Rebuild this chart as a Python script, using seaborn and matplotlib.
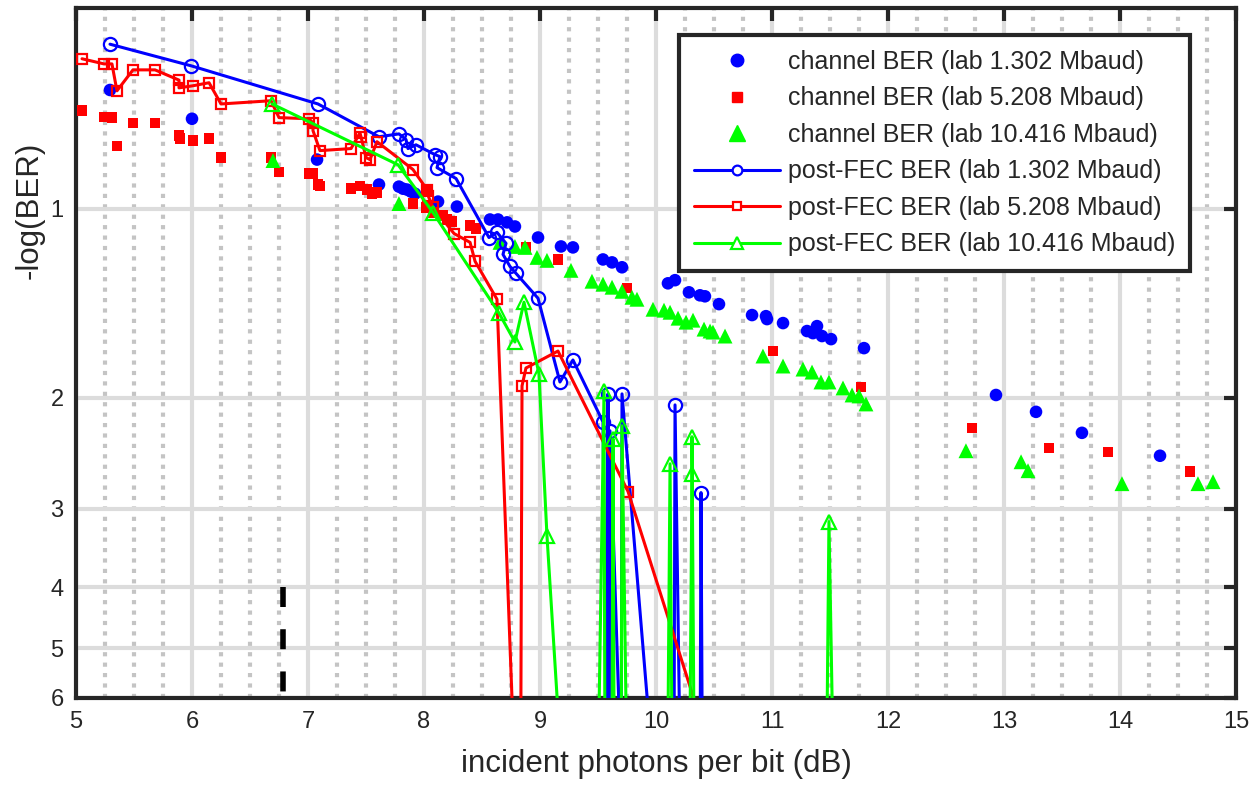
import numpy as np
import pandas as pd
import matplotlib
matplotlib.use("Agg")
import matplotlib.pyplot as plt
import seaborn as sns
from matplotlib.ticker import MultipleLocator, NullLocator, FixedLocator, FixedFormatter
from matplotlib.lines import Line2D

# value used for error-free (BER = 0) post-FEC points: they fall below the axis floor
FLOOR = 8.0
F = FLOOR

# ---------------- channel BER (filled markers) ----------------
ch1_x = [5.293, 6.0, 7.078, 7.612, 7.784, 7.819, 7.853, 7.888, 7.922, 8.121, 8.284, 8.569, 8.638,
         8.716, 8.784, 8.983, 9.181, 9.284, 9.543, 9.621, 9.707, 10.103, 10.164, 10.284, 10.379,
         10.422, 10.543, 10.828, 10.948, 10.957, 11.095, 11.302, 11.388, 11.353, 11.431, 11.509,
         11.793, 12.931, 13.276, 13.672, 14.345]
ch1_y = [0.648, 0.720, 0.836, 0.916, 0.923, 0.930, 0.933, 0.940, 0.947, 0.975, 0.993, 1.041, 1.041,
         1.052, 1.068, 1.112, 1.149, 1.153, 1.205, 1.218, 1.240, 1.315, 1.300, 1.359, 1.374,
         1.379, 1.419, 1.477, 1.483, 1.499, 1.521, 1.566, 1.538, 1.578, 1.595, 1.613,
         1.667, 1.979, 2.105, 2.273, 2.472]

ch2_x = [5.052, 5.241, 5.310, 5.353, 5.491, 5.681, 5.888, 5.897, 6.009, 6.147, 6.250, 6.681, 6.750,
         7.009, 7.043, 7.086, 7.103, 7.371, 7.448, 7.509, 7.552, 7.595, 7.905, 8.034, 8.017, 8.078,
         8.164, 8.198, 8.241, 8.397, 8.448, 8.879, 9.155, 9.750, 11.009, 11.767, 12.724, 13.388,
         13.897, 14.603]
ch2_y = [0.699, 0.715, 0.717, 0.795, 0.731, 0.731, 0.766, 0.774, 0.780, 0.774, 0.830, 0.830, 0.874,
         0.880, 0.880, 0.916, 0.920, 0.930, 0.920, 0.933, 0.947, 0.943, 0.982, 0.940, 0.996, 1.015,
         1.026, 1.041, 1.049, 1.064, 1.076, 1.153, 1.205, 1.339, 1.685, 1.921, 2.232, 2.401,
         2.436, 2.620]

ch3_x = [6.698, 7.784, 8.655, 8.784, 8.871, 8.974, 9.060, 9.267, 9.448, 9.543, 9.621, 9.707, 9.793,
         9.836, 9.974, 10.069, 10.121, 10.190, 10.259, 10.319, 10.414, 10.466, 10.491, 10.595,
         10.922, 11.095, 11.267, 11.345, 11.422, 11.491, 11.612, 11.690, 11.750, 11.810, 12.672,
         13.147, 13.207, 14.017, 14.672, 14.802]
ch3_y = [0.839, 0.982, 1.132, 1.149, 1.153, 1.196, 1.209, 1.254, 1.305, 1.319, 1.334, 1.354, 1.384,
         1.394, 1.446, 1.451, 1.462, 1.494, 1.516, 1.505, 1.555, 1.566, 1.572, 1.595,
         1.716, 1.780, 1.800, 1.820, 1.887, 1.887, 1.929, 1.979, 1.986, 2.045, 2.427,
         2.527, 2.611, 2.738, 2.738, 2.718]

# ---------------- post-FEC BER (open markers + lines) ----------------
pf1_x = [5.293, 5.991, 7.086, 7.612, 7.784, 7.845, 7.862, 7.931, 8.095, 8.138, 8.112, 8.276, 8.560,
         8.629, 8.707, 8.681, 8.741, 8.793, 8.983, 9.172, 9.284, 9.543, 9.575, 9.586, 9.595, 9.603,
         9.70, 9.707, 9.98, 10.155, 10.164, 10.21, 10.38, 10.388, 10.40]
pf1_y = [0.548, 0.593, 0.682, 0.769, 0.761, 0.777, 0.803, 0.792, 0.821, 0.827, 0.861, 0.896, 1.112,
         1.091, 1.136, 1.183, 1.236, 1.268, 1.389, 1.887, 1.741, 2.184, F, 1.971, F, 2.256,
         F, 1.971, F, F, 2.052, F, F, 2.829, F]

pf2_x = [5.052, 5.241, 5.310, 5.353, 5.491, 5.681, 5.888, 5.888, 6.009, 6.147, 6.250, 6.681, 6.750,
         7.009, 7.043, 7.043, 7.103, 7.371, 7.448, 7.457, 7.500, 7.534, 7.595, 7.905, 8.026, 8.035,
         8.078, 8.259, 8.397, 8.440, 8.629, 8.784, 8.833, 8.845, 8.879, 9.155, 9.759, 10.54]
pf2_y = [0.578, 0.589, 0.589, 0.650, 0.602, 0.602, 0.625, 0.643, 0.638, 0.631, 0.682, 0.674, 0.717,
         0.720, 0.731, 0.752, 0.809, 0.803, 0.758, 0.769, 0.830, 0.836, 0.783, 0.867, 0.933, 0.954,
         0.996, 1.096, 1.132, 1.213, 1.394, F, F, 1.914, 1.793, 1.685, 2.818, F]

pf3_x = [6.690, 7.776, 8.078, 8.647, 8.784, 8.862, 8.991, 9.060, 9.19, 9.50, 9.552, 9.56, 9.62,
         9.629, 9.64, 9.70, 9.707, 9.75, 10.10, 10.121, 10.14, 10.29, 10.31, 10.31, 10.33, 11.47,
         11.491, 11.53]
pf3_y = [0.682, 0.852, 1.015, 1.467, 1.630, 1.409, 1.833, 3.310, F, F, 1.950, F, F,
         2.323, F, F, 2.215, F, F, 2.546, F, F, 2.640, 2.306, F, F,
         3.146, F]

# threshold marker (dashed)
thr_x = [6.784, 6.784]
thr_y = [4.0, 6.0]

x_ticks = [5, 6, 7, 8, 9, 10, 11, 12, 13, 14, 15]
y_ticks = [1, 2, 3, 4, 5, 6]
y_tick_labels = ["1", "2", "3", "4", "5", "6"]

labels = ["channel BER (lab 1.302 Mbaud)", "channel BER (lab 5.208 Mbaud)",
          "channel BER (lab 10.416 Mbaud)", "post-FEC BER (lab 1.302 Mbaud)",
          "post-FEC BER (lab 5.208 Mbaud)", "post-FEC BER (lab 10.416 Mbaud)"]
colors = ["#0000FF", "#FF0000", "#00FF00"]

sns.set_style("white")
plt.rcParams["font.family"] = ["Liberation Sans", "DejaVu Sans"]

fig = plt.figure(figsize=(12.58, 7.88), dpi=100)
ax = fig.add_axes([76 / 1258, 1 - 698 / 788, 1160 / 1258, 690 / 788])

ax.set_yscale("log")

# channel BER scatter
for xs, ys, c, m, s in [(ch1_x, ch1_y, colors[0], "o", 82),
                        (ch2_x, ch2_y, colors[1], "s", 56),
                        (ch3_x, ch3_y, colors[2], "^", 115)]:
    sns.scatterplot(x=xs, y=ys, color=c, marker=m, s=s, edgecolor="none", linewidth=0,
                    ax=ax, legend=False, zorder=3)

# post-FEC lines
for xs, ys, c, m, ms in [(pf1_x, pf1_y, colors[0], "o", 9.5),
                         (pf2_x, pf2_y, colors[1], "s", 7.5),
                         (pf3_x, pf3_y, colors[2], "^", 10.5)]:
    df = pd.DataFrame({"x": xs, "y": ys})
    sns.lineplot(data=df, x="x", y="y", sort=False, estimator=None,
                 color=c, linewidth=2.2, marker=m, markersize=ms, markerfacecolor="none",
                 markeredgecolor=c, markeredgewidth=1.6, ax=ax, legend=False, zorder=4)

sns.lineplot(x=thr_x, y=thr_y, sort=False, estimator=None, color="black", linewidth=4,
             linestyle=(0, (3.6, 4.0)), ax=ax, legend=False, zorder=4)

ax.set_xlim(5, 15)
ax.set_ylim(6, 0.48)

ax.xaxis.set_major_locator(FixedLocator(x_ticks))
ax.xaxis.set_minor_locator(MultipleLocator(0.25))
ax.yaxis.set_major_locator(FixedLocator(y_ticks))
ax.yaxis.set_major_formatter(FixedFormatter(y_tick_labels))
ax.yaxis.set_minor_locator(NullLocator())

ax.grid(which="major", color="#dcdcdc", linewidth=3, linestyle="-", zorder=0)
ax.grid(which="minor", axis="x", color="#c4c4c4", linewidth=3, linestyle=(0, (1, 1.5)), zorder=0)
ax.set_axisbelow(True)

ax.tick_params(which="major", direction="in", length=9, width=3, top=True, right=True,
               labelsize=17, colors="#262626")
ax.tick_params(axis="x", which="major", pad=9)
ax.tick_params(axis="y", which="major", pad=9)
ax.tick_params(which="minor", length=0, top=True, right=True)

for sp in ax.spines.values():
    sp.set_linewidth(3)
    sp.set_color("#262626")

ax.set_xlabel("incident photons per bit (dB)", fontsize=22.5, color="#262626", labelpad=12)
ax.set_ylabel("-log(BER)", fontsize=22.5, color="#262626")
ax.yaxis.set_label_coords(-0.027, 0.707)

handles = [
    Line2D([], [], linestyle="none", marker="o", markersize=9, color=colors[0]),
    Line2D([], [], linestyle="none", marker="s", markersize=7.5, color=colors[1]),
    Line2D([], [], linestyle="none", marker="^", markersize=11, color=colors[2]),
    Line2D([], [], color=colors[0], linewidth=2.2, marker="o", markersize=7,
           markerfacecolor="white", markeredgewidth=1.6),
    Line2D([], [], color=colors[1], linewidth=2.2, marker="s", markersize=6,
           markerfacecolor="white", markeredgewidth=1.6),
    Line2D([], [], color=colors[2], linewidth=2.2, marker="^", markersize=8,
           markerfacecolor="white", markeredgewidth=1.6),
]
leg = ax.legend(handles, labels, loc="upper right", bbox_to_anchor=(0.9603, 0.9609),
                borderaxespad=0, fontsize=18, handlelength=3.45, handletextpad=0.3,
                labelspacing=0.5, borderpad=0.6, frameon=True, fancybox=False)
leg.get_frame().set_edgecolor("#262626")
leg.get_frame().set_linewidth(3)
leg.get_frame().set_alpha(1)

fig.savefig("out.png", dpi=100)
